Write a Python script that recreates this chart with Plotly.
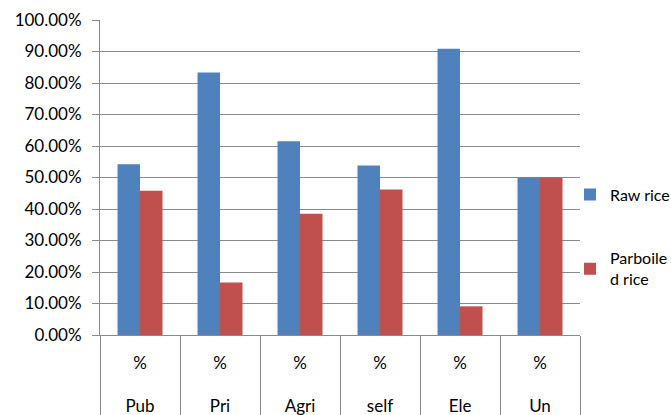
import plotly.graph_objects as go

# Sector categories and share of households by rice type
categories = ["Pub", "Pri", "Agri", "self", "Ele", "Un"]
unit_row = ["%", "%", "%", "%", "%", "%"]
raw_rice = [0.542, 0.833, 0.615, 0.538, 0.909, 0.50]
parboiled_rice = [0.458, 0.167, 0.385, 0.462, 0.091, 0.50]
series_names = ["Raw rice", "Parboile<br>d rice"]

FONT = "Lato"
GRID = "#8a8a8a"

fig = go.Figure()
fig.add_trace(go.Bar(
    x=categories, y=raw_rice, name=series_names[0],
    marker=dict(color="#4F81BD", line=dict(width=0)),
    legendgroup="a",
))
fig.add_trace(go.Bar(
    x=categories, y=parboiled_rice, name=series_names[1],
    marker=dict(color="#C0504D", line=dict(width=0)),
    legendgroup="b",
))
# invisible carrier so the "%" label axis gets drawn
fig.add_trace(go.Scatter(
    x=list(range(len(categories))), y=raw_rice, xaxis="x2",
    mode="markers", marker=dict(opacity=0),
    showlegend=False, hoverinfo="skip",
))

fig.update_layout(
    width=671, height=415,
    margin=dict(l=100, r=91, t=20, b=80, autoexpand=False),
    paper_bgcolor="white", plot_bgcolor="white",
    barmode="group", bargap=0.4375, bargroupgap=0,
    font=dict(family=FONT, size=17, color="#000000"),
    showlegend=True,
    legend=dict(
        x=1.0 - 10 / 480, xanchor="left",
        y=0.311, yanchor="middle",
        traceorder="grouped", tracegroupgap=40,
        font=dict(family=FONT, size=16),
        itemwidth=30, bgcolor="rgba(0,0,0,0)",
    ),
    # lower label row (category names) plus the boundary dividers
    xaxis=dict(
        type="category",
        tickvals=categories, ticktext=categories,
        tickson="boundaries", ticks="outside", ticklen=80,
        tickcolor=GRID, tickwidth=1,
        ticklabelstandoff=56,
        showline=True, linecolor=GRID, linewidth=1,
        showgrid=False, zeroline=False,
    ),
    # upper label row ("%" under each category)
    xaxis2=dict(
        overlaying="x", anchor="y", side="bottom",
        range=[-0.5, len(categories) - 0.5],
        tickvals=list(range(len(categories))), ticktext=unit_row,
        ticks="", ticklabelstandoff=16,
        showline=False, showgrid=False, zeroline=False,
    ),
    yaxis=dict(
        range=[0, 1], dtick=0.1, tick0=0, tickformat=".2%",
        ticks="outside", ticklen=7, tickcolor=GRID, tickwidth=1,
        ticklabelstandoff=7,
        showline=True, linecolor=GRID, linewidth=1,
        showgrid=True, gridcolor=GRID, gridwidth=1,
        zeroline=False,
    ),
)

fig.write_html("out.html")
